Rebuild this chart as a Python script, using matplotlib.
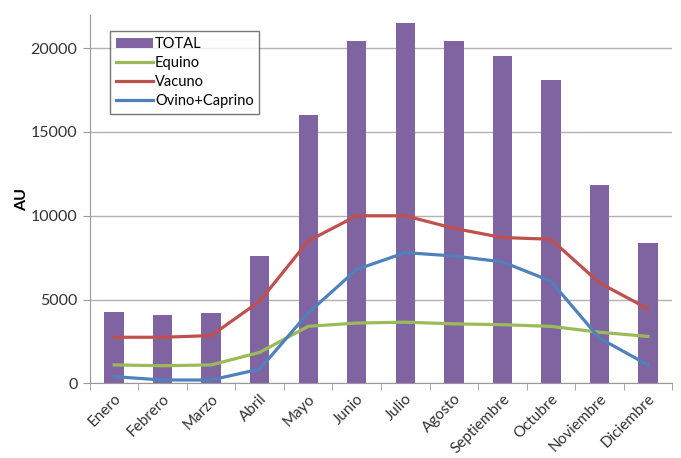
import matplotlib
matplotlib.use("Agg")
import matplotlib.pyplot as plt
import numpy as np
from matplotlib.patches import Patch
from matplotlib.lines import Line2D

months = ["Enero", "Febrero", "Marzo", "Abril", "Mayo", "Junio", "Julio",
          "Agosto", "Septiembre", "Octubre", "Noviembre", "Diciembre"]
total = [4250, 4075, 4200, 7600, 16000, 20400, 21500, 20400, 19550, 18100, 11850, 8400]
equino = [1100, 1050, 1100, 1850, 3400, 3600, 3650, 3550, 3500, 3400, 3050, 2800]
vacuno = [2750, 2750, 2850, 4900, 8500, 10000, 10000, 9250, 8700, 8600, 6000, 4450]
ovino_caprino = [400, 200, 200, 850, 4200, 6800, 7800, 7600, 7250, 6100, 2700, 1100]
yticks = [0, 5000, 10000, 15000, 20000]

plt.rcParams['font.family'] = ['Lato', 'DejaVu Sans']

c_total = "#8064A2"
c_equino = "#9BBB59"
c_vacuno = "#C0504D"
c_ovino = "#4F81BD"
grid_c = "#B8B0B0"

fig = plt.figure(figsize=(6.81, 4.58), dpi=100)
ax = fig.add_axes([0.132, 0.163, 0.855, 0.805])

x = np.arange(len(months))
ax.bar(x, total, width=0.4, color=c_total, zorder=2)
ax.plot(x, equino, color=c_equino, lw=2.3, zorder=3)
ax.plot(x, vacuno, color=c_vacuno, lw=2.3, zorder=3)
ax.plot(x, ovino_caprino, color=c_ovino, lw=2.3, zorder=3)

ax.set_xlim(-0.5, len(months) - 0.5)
ax.set_ylim(0, 22000)
ax.set_yticks(yticks)
ax.set_yticklabels([str(v) for v in yticks], fontsize=11.5, color="#333333")
ax.yaxis.grid(True, color=grid_c, lw=1, zorder=0)
ax.set_axisbelow(True)

ax.set_xticks(x)
ax.set_xticklabels(months, rotation=45, ha="right", va="top",
                   rotation_mode="anchor", fontsize=11, color="#333333")
ax.tick_params(axis="x", which="major", length=0, pad=6)
ax.set_xticks(np.arange(-0.5, len(months), 1.0), minor=True)
ax.tick_params(axis="x", which="minor", length=5, color="#999999")
ax.tick_params(axis="y", length=5, color="#999999", pad=4)

for s in ["top", "right"]:
    ax.spines[s].set_visible(False)
ax.spines["left"].set_color("#999999")
ax.spines["bottom"].set_color("#999999")

ax.set_ylabel("AU", fontsize=11.5, fontweight="bold")
ax.yaxis.set_label_coords(-0.105, 0.5)

handles = [
    Patch(facecolor=c_total, edgecolor="none"),
    Line2D([], [], color=c_equino, lw=2.3),
    Line2D([], [], color=c_vacuno, lw=2.3),
    Line2D([], [], color=c_ovino, lw=2.3),
]
leg = ax.legend(handles, ["TOTAL", "Equino", "Vacuno", "Ovino+Caprino"],
                loc="upper left", bbox_to_anchor=(0.034, 0.955),
                fontsize=10.5, frameon=True, fancybox=False,
                handlelength=2.6, handleheight=0.7, handletextpad=0.1,
                borderpad=0.4, labelspacing=0.35, borderaxespad=0)
leg.get_frame().set_edgecolor("#555555")
leg.get_frame().set_linewidth(1.0)

fig.savefig("out.png", dpi=100)
